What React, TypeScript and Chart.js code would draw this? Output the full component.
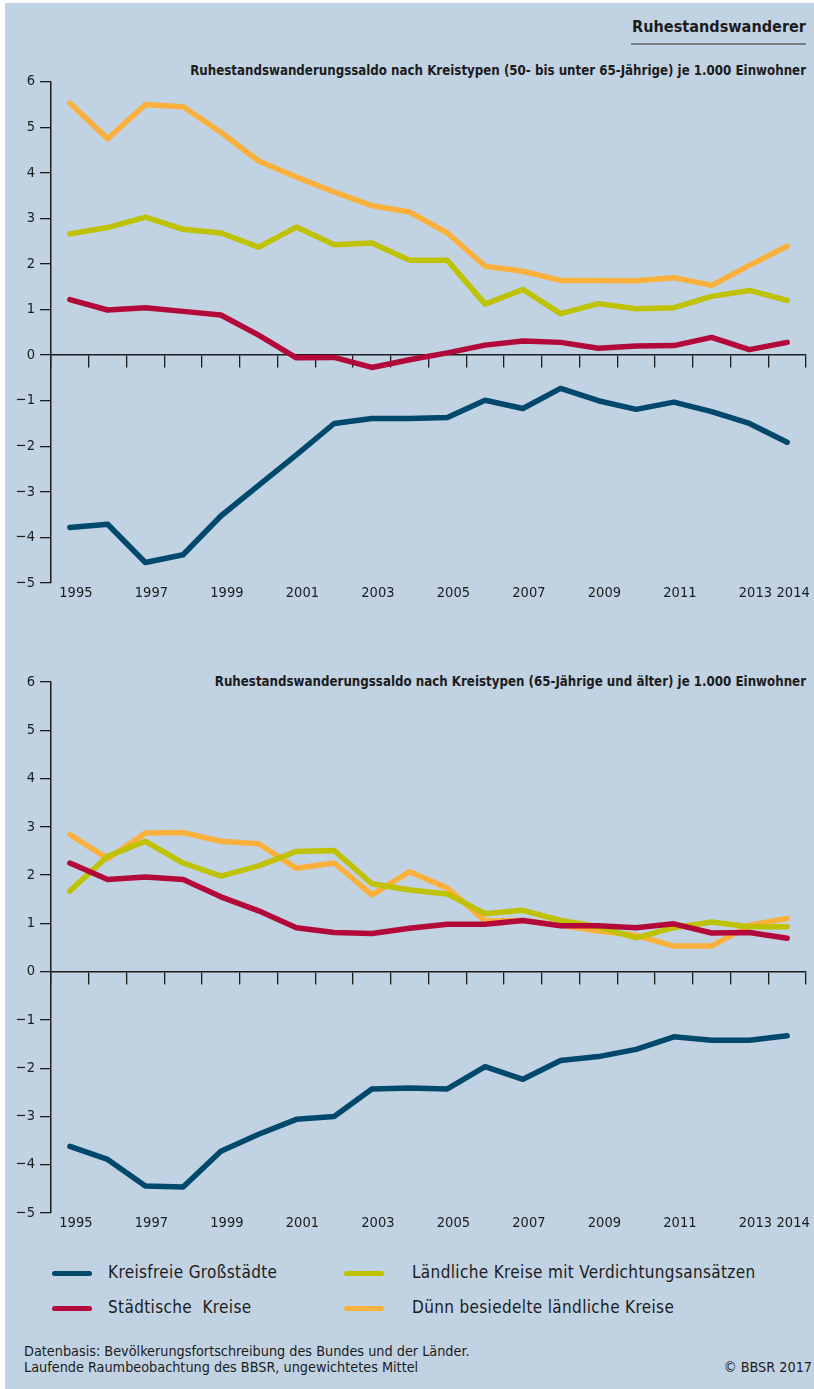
import React, { useEffect, useRef } from "react";
import { Chart, registerables } from "chart.js";

Chart.register(...registerables);

const years = ["1995","1996","1997","1998","1999","2000","2001","2002","2003","2004","2005","2006","2007","2008","2009","2010","2011","2012","2013","2014"];
const shownYearLabels = ["1995","1997","1999","2001","2003","2005","2007","2009","2011","2013","2014"];
const yMin = -5;
const yMax = 6;

const seriesNames = ["Kreisfreie Großstädte", "Städtische  Kreise", "Ländliche Kreise mit Verdichtungsansätzen", "Dünn besiedelte ländliche Kreise"];
const seriesColors = ["#00496c", "#b3093a", "#bec200", "#fbb03b"];

// 50- bis unter 65-Jährige
const top_kreisfreie = [-3.78, -3.71, -4.55, -4.38, -3.53, -2.86, -2.19, -1.50, -1.39, -1.39, -1.37, -0.99, -1.17, -0.73, -1.00, -1.19, -1.03, -1.24, -1.50, -1.91];
const top_staedtisch = [1.22, 0.99, 1.04, 0.96, 0.88, 0.44, -0.06, -0.05, -0.27, -0.10, 0.05, 0.22, 0.31, 0.28, 0.15, 0.20, 0.21, 0.39, 0.12, 0.28];
const top_verdichtung = [2.66, 2.80, 3.03, 2.76, 2.68, 2.37, 2.81, 2.42, 2.46, 2.08, 2.08, 1.12, 1.44, 0.91, 1.13, 1.02, 1.04, 1.29, 1.42, 1.20];
const top_duenn = [5.53, 4.75, 5.50, 5.45, 4.89, 4.26, 3.91, 3.58, 3.28, 3.14, 2.68, 1.95, 1.84, 1.64, 1.64, 1.63, 1.70, 1.53, 1.97, 2.39];

// 65-Jährige und älter
const bot_kreisfreie = [-3.62, -3.89, -4.44, -4.46, -3.72, -3.37, -3.06, -3.00, -2.43, -2.41, -2.43, -1.97, -2.23, -1.84, -1.76, -1.61, -1.35, -1.42, -1.42, -1.33];
const bot_staedtisch = [2.25, 1.91, 1.96, 1.91, 1.55, 1.26, 0.91, 0.81, 0.79, 0.90, 0.98, 0.98, 1.06, 0.95, 0.95, 0.91, 0.99, 0.80, 0.81, 0.69];
const bot_verdichtung = [1.67, 2.39, 2.70, 2.25, 1.98, 2.19, 2.49, 2.51, 1.82, 1.69, 1.61, 1.20, 1.27, 1.06, 0.93, 0.70, 0.91, 1.03, 0.93, 0.93];
const bot_duenn = [2.84, 2.34, 2.87, 2.88, 2.70, 2.65, 2.14, 2.25, 1.59, 2.07, 1.73, 1.05, 1.06, 0.96, 0.84, 0.75, 0.53, 0.53, 0.96, 1.10];

const title = "Ruhestandswanderer";
const subtitleTop = "Ruhestandswanderungssaldo nach Kreistypen (50- bis unter 65-Jährige) je 1.000 Einwohner";
const subtitleBottom = "Ruhestandswanderungssaldo nach Kreistypen (65-Jährige und älter) je 1.000 Einwohner";
const footerLines = ["Datenbasis: Bevölkerungsfortschreibung des Bundes und der Länder.", "Laufende Raumbeobachtung des BBSR, ungewichtetes Mittel"];
const copyright = "© BBSR 2017";

const FONT = '"Liberation Sans Narrow", "DejaVu Sans Condensed", "Arial Narrow", sans-serif';
const INK = "#1c1c1c";
const BG = "#c1d2e2";
const TICK_SIZE = 14.5;

type ChartProps = { series: number[][]; width: number; height: number; padTop: number };

function LineChart({ series, width, height, padTop }: ChartProps) {
  const ref = useRef<HTMLCanvasElement | null>(null);
  useEffect(() => {
    if (!ref.current) return;
    const chart = new Chart(ref.current, {
      type: "line",
      data: {
        labels: years,
        datasets: series.map((d, i) => ({
          label: seriesNames[i],
          data: d,
          borderColor: seriesColors[i],
          backgroundColor: seriesColors[i],
          borderWidth: 5.5,
          pointRadius: 0,
          tension: 0,
          borderCapStyle: "round",
          borderJoinStyle: "round",
          xAxisID: "x",
          yAxisID: "y",
        })),
      },
      options: {
        animation: false,
        responsive: false,
        devicePixelRatio: 1,
        layout: { padding: { top: padTop, right: 8, left: 0, bottom: 0 } },
        plugins: { legend: { display: false }, tooltip: { enabled: false }, title: { display: false } },
        scales: {
          x: {
            type: "category",
            position: { y: 0 },
            offset: true,
            grid: { display: true, drawOnChartArea: false, drawTicks: true, tickLength: 12, offset: true, color: INK, lineWidth: 1.3 },
            border: { display: true, color: INK, width: 1.5 },
            ticks: { display: false },
          },
          x2: {
            type: "category",
            labels: years,
            position: "bottom",
            offset: true,
            grid: { display: false, drawTicks: false, tickLength: 0 },
            border: { display: false },
            ticks: {
              autoSkip: false,
              maxRotation: 0,
              padding: 2,
              labelOffset: 6,
              color: INK,
              font: { family: FONT, size: TICK_SIZE },
              callback: (_v: any, i: number) => (shownYearLabels.includes(years[i]) ? years[i] : ""),
            },
            afterFit: (s: any) => { s.height = 30; },
          },
          y: {
            type: "linear",
            position: "left",
            min: yMin,
            max: yMax,
            ticks: {
              stepSize: 1,
              padding: 5,
              color: INK,
              font: { family: FONT, size: TICK_SIZE },
              callback: (v: any) => (Number(v) < 0 ? "\u2212" + Math.abs(Number(v)) : String(v)),
            },
            grid: { display: true, drawOnChartArea: false, drawTicks: true, tickLength: 11, color: INK, lineWidth: 1.3 },
            border: { display: true, color: INK, width: 1.5 },
            afterFit: (s: any) => { s.width = 51; },
          },
        },
      } as any,
    });
    return () => chart.destroy();
  }, [series, width, height, padTop]);
  return <canvas ref={ref} width={width} height={height} style={{ display: "block", width, height }} />;
}

const topSeries = [top_kreisfreie, top_staedtisch, top_verdichtung, top_duenn];
const bottomSeries = [bot_kreisfreie, bot_staedtisch, bot_verdichtung, bot_duenn];

export default function App() {
  const abs = (o: React.CSSProperties): React.CSSProperties => ({ position: "absolute", ...o });
  const legendItem = (i: number, left: number, textOffset: number, top: number) => (
    <div key={i} style={abs({ left, top, height: 20, width: 440 })}>
      <div style={abs({ left: 0, top: 7, width: 40, height: 5, borderRadius: 3, background: seriesColors[i] })} />
      <div style={abs({ left: textOffset, top: 0, fontFamily: FONT, fontSize: 17, lineHeight: "17px", letterSpacing: 0.35, color: INK, whiteSpace: "pre" })}>{seriesNames[i]}</div>
    </div>
  );
  return (
    <div style={abs({ left: 0, top: 0, width: 814, height: 1389, background: "#ffffff", overflow: "hidden" })}>
      <div style={abs({ left: 5, top: 3, width: 809, height: 1386, background: BG })} />
      <div style={abs({ right: 8, top: 19, fontFamily: FONT, fontWeight: "bold", fontSize: 16.1, lineHeight: "16px", color: INK, whiteSpace: "nowrap" })}>{title}</div>
      <div style={abs({ left: 631, top: 42.5, width: 175, height: 2, background: "#7b7d80" })} />
      <div style={abs({ right: 8, top: 64, fontFamily: FONT, fontWeight: "bold", fontSize: 13.2, lineHeight: "13px", color: INK, whiteSpace: "nowrap" })}>{subtitleTop}</div>
      <div style={abs({ left: 0, top: 68 })}>
        <LineChart series={topSeries} width={814} height={545} padTop={13} />
      </div>
      <div style={abs({ right: 8, top: 675, fontFamily: FONT, fontWeight: "bold", fontSize: 13.2, lineHeight: "13px", color: INK, whiteSpace: "nowrap" })}>{subtitleBottom}</div>
      <div style={abs({ left: 0, top: 668 })}>
        <LineChart series={bottomSeries} width={814} height={575} padTop={14} />
      </div>
      {legendItem(0, 52, 56, 1264)}
      {legendItem(1, 52, 56, 1299)}
      {legendItem(2, 344, 68, 1264)}
      {legendItem(3, 344, 68, 1299)}
      <div style={abs({ left: 24, top: 1343, fontFamily: FONT, fontSize: 14.3, lineHeight: "16px", color: INK, whiteSpace: "nowrap" })}>
        <div>{footerLines[0]}</div>
        <div>{footerLines[1]}</div>
      </div>
      <div style={abs({ right: 2, top: 1359, fontFamily: FONT, fontSize: 14.3, lineHeight: "16px", color: INK, whiteSpace: "nowrap" })}>{copyright}</div>
    </div>
  );
}
